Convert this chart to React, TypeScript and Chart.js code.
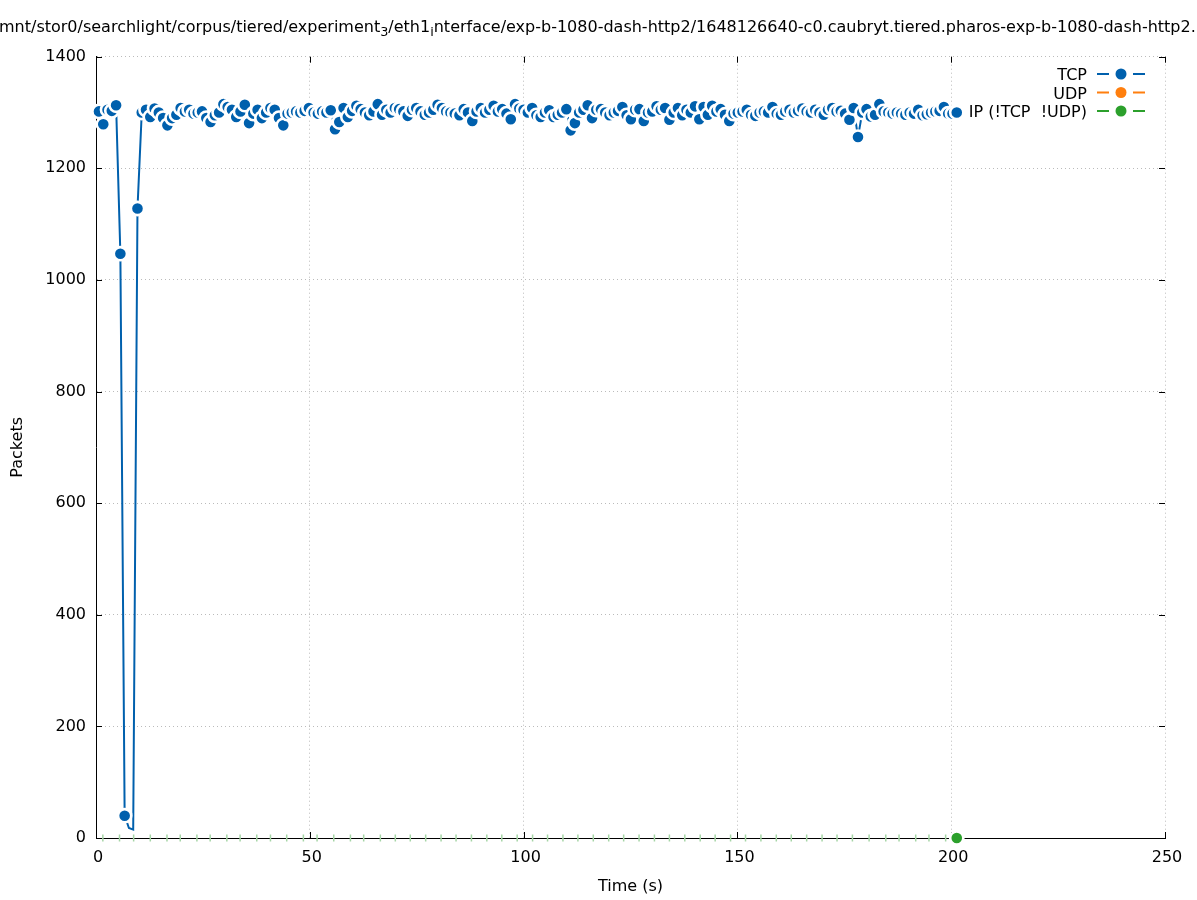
import React, { useEffect, useRef } from "react";
import { Chart, registerables } from "chart.js";

Chart.register(...registerables);

const FONT = "DejaVu Sans";

const titleSegments: [string, boolean][] = [
  ["/mnt/stor0/searchlight/corpus/tiered/experiment", false],
  ["3", true],
  ["/eth1", false],
  ["i", true],
  ["nterface/exp-b-1080-dash-http2/1648126640-c0.caubryt.tiered.pharos-exp-b-1080-dash-http2.pcap", false],
];

const seriesLabels = ["TCP", "UDP", "IP (!TCP  !UDP)"];
const seriesColors = ["#0060ad", "#ff7f0e", "#2ca02c"];

const xTickStep = 50;
const yTickStep = 200;
const xMax = 250;
const yMax = 1400;

const tcpTimes = [
  0.7, 1.7, 2.7, 3.7, 4.7, 5.7, 6.7, 7.7, 8.7, 9.7, 10.7, 11.7, 12.7, 13.7, 14.7, 15.7, 16.7,
  17.8, 18.8, 19.8, 20.8, 21.8, 22.8, 23.8, 24.8, 25.8, 26.8, 27.8, 28.8, 29.8, 30.8, 31.8, 32.8,
  33.8, 34.8, 35.8, 36.8, 37.8, 38.8, 39.8, 40.8, 41.8, 42.8, 43.8, 44.8, 45.8, 46.8, 47.8, 48.8, 49.8,
  50.9, 51.9, 52.9, 53.9, 54.9, 55.9, 56.9, 57.9, 58.9, 59.9, 60.9, 61.9, 62.9, 63.9, 64.9, 65.9, 66.9,
  67.9, 68.9, 69.9, 70.9, 71.9, 72.9, 73.9, 74.9, 75.9, 76.9, 77.9, 78.9, 79.9, 80.9, 81.9, 82.9, 83.9,
  85.0, 86.0, 87.0, 88.0, 89.0, 90.0, 91.0, 92.0, 93.0, 94.0, 95.0, 96.0, 97.0, 98.0, 99.0, 100.0,
  101.0, 102.0, 103.0, 104.0, 105.0, 106.0, 107.0, 108.0, 109.0, 110.0, 111.0, 112.0, 113.0, 114.0,
  115.0, 116.0, 117.0,
  118.1, 119.1, 120.1, 121.1, 122.1, 123.1, 124.1, 125.1, 126.1, 127.1, 128.1, 129.1, 130.1, 131.1,
  132.1, 133.1, 134.1, 135.1, 136.1, 137.1, 138.1, 139.1, 140.1, 141.1, 142.1, 143.1, 144.1, 145.1,
  146.1, 147.1, 148.1, 149.1, 150.1,
  151.2, 152.2, 153.2, 154.2, 155.2, 156.2, 157.2, 158.2, 159.2, 160.2, 161.2, 162.2, 163.2, 164.2,
  165.2, 166.2, 167.2, 168.2, 169.2, 170.2, 171.2, 172.2, 173.2, 174.2, 175.2, 176.2, 177.2, 178.2,
  179.2, 180.2, 181.2, 182.2, 183.2, 184.2,
  185.3, 186.3, 187.3, 188.3, 189.3, 190.3, 191.3, 192.3, 193.3, 194.3, 195.3, 196.3, 197.3, 198.3,
  199.3, 200.3, 201.3,
];

const tcpPackets = [
  1302, 1279, 1305, 1303, 1313, 1047, 40, 18, 15, 1128,
  1300, 1305, 1292, 1307, 1300, 1290, 1277, 1290, 1296, 1308,
  1302, 1305, 1298, 1300, 1302, 1290, 1283, 1295, 1300, 1315,
  1310, 1305, 1292, 1302, 1314, 1281, 1298, 1305, 1290, 1300,
  1308, 1305, 1290, 1277, 1298, 1300, 1302, 1300, 1303, 1308,
  1300, 1298, 1302, 1300, 1304, 1270, 1283, 1308, 1292, 1303,
  1312, 1306, 1300, 1295, 1302, 1315, 1296, 1305, 1300, 1308,
  1306, 1302, 1294, 1305, 1308, 1302, 1296, 1300, 1305, 1314,
  1308, 1302, 1300, 1298, 1295, 1306, 1300, 1285, 1302, 1308,
  1300, 1305, 1312, 1302, 1306, 1298, 1288, 1315, 1307, 1305,
  1300, 1308, 1295, 1292, 1300, 1304, 1292, 1296, 1300, 1306,
  1268, 1281, 1300, 1305, 1313, 1290, 1305, 1306, 1300, 1295,
  1300, 1303, 1310, 1295, 1288, 1305, 1306, 1285, 1300, 1302,
  1311, 1305, 1308, 1287, 1300, 1308, 1295, 1305, 1300, 1311,
  1288, 1310, 1296, 1312, 1302, 1306, 1296, 1285, 1298, 1300,
  1302, 1305, 1296, 1294, 1300, 1302, 1300, 1310, 1298, 1296,
  1302, 1305, 1300, 1303, 1307, 1302, 1300, 1305, 1300, 1296,
  1305, 1308, 1302, 1303, 1298, 1287, 1308, 1256, 1300, 1306,
  1293, 1296, 1315, 1302, 1300, 1298, 1300, 1298, 1296, 1300,
  1298, 1305, 1295, 1297, 1300, 1302, 1303, 1310, 1298, 1298,
  1300,
];

const udpTimes: number[] = [];
const udpPackets: number[] = [];

const ipTimes = [
  1.6, 5.5, 8.8, 12.7, 16.6, 19.7, 23.6, 26.7, 30.6, 33.7, 37.6, 40.8, 44.6, 48.5, 51.7, 55.6,
  59.5, 62.6, 66.5, 70.0, 73.5, 77.1, 80.7, 84.2, 87.8, 91.4, 94.9, 98.5, 102.1, 105.6, 109.2,
  112.7, 116.3, 119.9, 123.4, 127.0, 130.6, 134.1, 137.7, 141.3, 144.8, 148.4, 151.9, 155.5,
  159.1, 162.6, 166.2, 169.8, 173.3, 176.9, 180.8, 184.7, 187.8, 191.7, 194.8, 198.7, 201.3,
];
const ipPackets = [
  0, 0, 0, 0, 0, 0, 0, 0, 0, 0, 0, 0, 0, 0, 0, 0, 0, 0, 0, 0, 0, 0, 0, 0, 0, 0, 0, 0, 0, 0, 0,
  0, 0, 0, 0, 0, 0, 0, 0, 0, 0, 0, 0, 0, 0, 0, 0, 0, 0, 0, 0, 0, 0, 0, 0, 0, 0,
];

const titlePlugin = {
  id: "gnuTitle",
  afterDraw(chart: any) {
    const ctx = chart.ctx;
    ctx.save();
    ctx.fillStyle = "#000";
    ctx.textAlign = "left";
    ctx.textBaseline = "alphabetic";
    ctx.font = `16px "${FONT}"`;
    let x = -1 - ctx.measureText("/").width;
    for (const [text, sub] of titleSegments) {
      ctx.font = sub ? `12.8px "${FONT}"` : `16px "${FONT}"`;
      ctx.fillText(text, x, sub ? 36 : 32);
      x += ctx.measureText(text).width;
    }
    ctx.restore();
  },
};

const mirrorTicksPlugin = {
  id: "mirrorTicks",
  beforeDatasetsDraw(chart: any) {
    const ctx = chart.ctx;
    const { left, right, top, bottom } = chart.chartArea;
    const xs = chart.scales.x;
    const ys = chart.scales.y;
    const len = 6;
    ctx.save();
    ctx.strokeStyle = "#000";
    ctx.lineWidth = 1;
    ctx.beginPath();
    xs.ticks.forEach((t: any) => {
      const p = Math.round(xs.getPixelForValue(t.value)) + 0.5;
      ctx.moveTo(p, bottom);
      ctx.lineTo(p, bottom - len);
      ctx.moveTo(p, top);
      ctx.lineTo(p, top + len);
    });
    ys.ticks.forEach((t: any) => {
      const p = Math.round(ys.getPixelForValue(t.value)) + 0.5;
      ctx.moveTo(left, p);
      ctx.lineTo(left + len, p);
      ctx.moveTo(right, p);
      ctx.lineTo(right - len, p);
    });
    ctx.stroke();
    ctx.restore();
  },
};

const legendPlugin = {
  id: "gnuLegend",
  afterDraw(chart: any) {
    const ctx = chart.ctx;
    const rows = [74, 92.5, 111];
    ctx.save();
    chart.data.datasets.forEach((ds: any, k: number) => {
      const y = rows[k];
      ctx.font = `16px "${FONT}"`;
      ctx.fillStyle = "#000";
      ctx.textAlign = "right";
      ctx.textBaseline = "alphabetic";
      ctx.fillText(ds.label, 1087, y + 6);
      ctx.strokeStyle = ds.borderColor;
      ctx.lineWidth = 2;
      ctx.beginPath();
      ctx.moveTo(1097, y);
      ctx.lineTo(1109, y);
      ctx.moveTo(1133, y);
      ctx.lineTo(1145, y);
      ctx.stroke();
      ctx.fillStyle = ds.borderColor;
      ctx.beginPath();
      ctx.arc(1121, y, 5.5, 0, Math.PI * 2);
      ctx.fill();
    });
    ctx.restore();
  },
};

export default function App() {
  const ref = useRef<HTMLCanvasElement>(null);

  useEffect(() => {
    const lastIp = ipTimes.length - 1;
    const chart = new Chart(ref.current as HTMLCanvasElement, {
      type: "line",
      data: {
        datasets: [
          {
            label: seriesLabels[0],
            data: tcpTimes.map((x, i) => ({ x, y: tcpPackets[i] })),
            borderColor: seriesColors[0],
            backgroundColor: seriesColors[0],
            borderWidth: 2,
            pointRadius: (c: any) => (c.raw && c.raw.y < 30 ? 0 : 6.6),
            pointBackgroundColor: seriesColors[0],
            pointBorderColor: "#ffffff",
            pointBorderWidth: 2.6,
            tension: 0,
            clip: false,
          },
          {
            label: seriesLabels[1],
            data: udpTimes.map((x, i) => ({ x, y: udpPackets[i] })),
            borderColor: seriesColors[1],
            backgroundColor: seriesColors[1],
            borderWidth: 2,
            pointRadius: 6.6,
            pointBorderColor: "#ffffff",
            pointBorderWidth: 2.6,
            clip: false,
          },
          {
            label: seriesLabels[2],
            data: ipTimes.map((x, i) => ({ x, y: ipPackets[i] })),
            borderColor: seriesColors[2],
            backgroundColor: seriesColors[2],
            showLine: false,
            borderWidth: 2,
            pointStyle: (c: any) => (c.dataIndex === lastIp ? "circle" : "line"),
            pointRotation: 90,
            pointRadius: (c: any) => (c.dataIndex === lastIp ? 6.6 : 3.5),
            pointBackgroundColor: seriesColors[2],
            pointBorderColor: (c: any) => (c.dataIndex === lastIp ? "#ffffff" : "#a6d5a6"),
            pointBorderWidth: (c: any) => (c.dataIndex === lastIp ? 2.6 : 1.5),
            clip: false,
          },
        ],
      } as any,
      options: {
        animation: false,
        responsive: false,
        devicePixelRatio: 1,
        layout: { padding: { top: 56.7, right: 32, left: 0, bottom: 0 } },
        plugins: {
          legend: { display: false },
          title: { display: false },
          tooltip: { enabled: false },
        },
        events: [],
        scales: {
          x: {
            type: "linear",
            min: 0,
            max: xMax,
            afterFit: (s: any) => {
              s.height = 62;
            },
            ticks: {
              stepSize: xTickStep,
              color: "#000",
              font: { family: FONT, size: 16 },
              padding: 10,
              labelOffset: 2,
              maxRotation: 0,
              callback: (v: any) => String(v),
            },
            grid: {
              color: "#bbbbbb",
              lineWidth: 1,
              drawTicks: false,
            },
            border: { display: true, color: "#000", width: 1, dash: [1, 3] },
            title: {
              display: true,
              text: "Time (s)",
              color: "#000",
              font: { family: FONT, size: 16 },
              padding: { top: 0, bottom: 4 },
            },
          },
          y: {
            type: "linear",
            min: 0,
            max: yMax,
            afterFit: (s: any) => {
              s.width = 96;
            },
            ticks: {
              stepSize: yTickStep,
              color: "#000",
              font: { family: FONT, size: 16 },
              padding: 10,
              callback: (v: any) => String(v),
            },
            grid: {
              color: "#bbbbbb",
              lineWidth: 1,
              drawTicks: false,
            },
            border: { display: true, color: "#000", width: 1, dash: [1, 3] },
            title: {
              display: true,
              text: "Packets",
              color: "#000",
              font: { family: FONT, size: 16 },
              padding: { top: 8.5, bottom: 0 },
            },
          },
        },
      } as any,
      plugins: [titlePlugin, mirrorTicksPlugin, legendPlugin],
    });
    return () => chart.destroy();
  }, []);

  return (
    <div style={{ position: "absolute", left: 0, top: 0, width: 1197, height: 900, background: "#fff" }}>
      <canvas ref={ref} width={1197} height={900} style={{ display: "block", width: 1197, height: 900 }} />
    </div>
  );
}
